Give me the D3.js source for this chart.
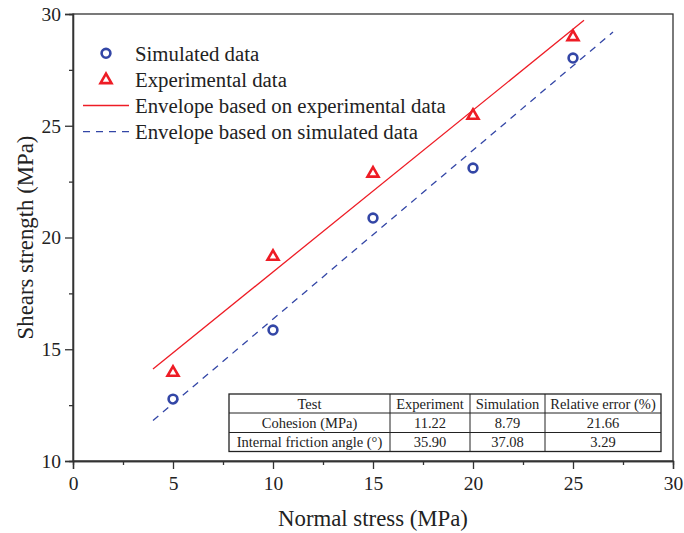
<!DOCTYPE html>
<html>
<head>
<meta charset="utf-8">
<script src="https://cdn.jsdelivr.net/npm/d3@7"></script>
<style>
  html, body { margin: 0; padding: 0; background: #fff; }
</style>
</head>
<body>
<svg id="chart" width="684" height="533"></svg>
<script>
// Normal stress levels (MPa)
const normalStress = [5, 10, 15, 20, 25];
// Measured shear strength (MPa)
const simulatedStrength = [12.77, 15.86, 20.87, 23.11, 28.03];
const experimentalStrength = [13.98, 19.17, 22.89, 25.48, 29.0];

// Mohr-Coulomb envelope parameters
const cohesion = { experiment: 11.22, simulation: 8.79 };
const frictionAngle = { experiment: 35.90, simulation: 37.08 };
const envelopeRange = { experiment: [4, 25.55], simulation: [4, 27] };

// Axis ticks
const xTicks = [0, 5, 10, 15, 20, 25, 30];
const yTicks = [10, 15, 20, 25, 30];
const xMinorTicks = [2.5, 7.5, 12.5, 17.5, 22.5, 27.5];
const yMinorTicks = [12.5, 17.5, 22.5, 27.5];

// Parameter table
const tableHeader = ["Test", "Experiment", "Simulation", "Relative error (%)"];
const tableRows = [
  ["Cohesion (MPa)", "11.22", "8.79", "21.66"],
  ["Internal friction angle (°)", "35.90", "37.08", "3.29"]
];

const FONT = '"Liberation Serif"';
const RED = "#ee1c25";
const BLUE = "#3346a6";
const AXIS = "#333";
const INK = "#222";

const svg = d3.select("#chart");
const m = { left: 73, top: 14, right: 673, bottom: 461 };

const x = d3.scaleLinear().domain([0, 30]).range([m.left, m.right]);
const y = d3.scaleLinear().domain([10, 30]).range([m.bottom, m.top]);

function txt(g) {
  return g.append("text").style("font-family", FONT).attr("fill", INK);
}

// Frame
svg.append("rect")
  .attr("x", m.left).attr("y", m.top)
  .attr("width", m.right - m.left).attr("height", m.bottom - m.top)
  .attr("fill", "none").attr("stroke", AXIS).attr("stroke-width", 1.3);

// Axes with outward ticks
function styleAxis(g) {
  g.attr("font-family", null);
  g.select(".domain").attr("stroke", AXIS).attr("stroke-width", 1.3);
  g.selectAll(".tick line").attr("stroke", AXIS).attr("stroke-width", 1.3);
  g.selectAll(".tick text")
    .style("font-family", FONT)
    .style("font-size", "19.5px").attr("fill", INK);
}
const gx = svg.append("g").attr("transform", `translate(0,${m.bottom})`)
  .call(d3.axisBottom(x).tickValues(xTicks).tickSize(8).tickPadding(7).tickFormat(d3.format("d")));
styleAxis(gx);
const gxm = svg.append("g").attr("transform", `translate(0,${m.bottom})`)
  .call(d3.axisBottom(x).tickValues(xMinorTicks).tickSize(4).tickFormat(""));
styleAxis(gxm);

const gy = svg.append("g").attr("transform", `translate(${m.left},0)`)
  .call(d3.axisLeft(y).tickValues(yTicks).tickSize(8).tickPadding(4).tickFormat(d3.format("d")));
styleAxis(gy);
const gym = svg.append("g").attr("transform", `translate(${m.left},0)`)
  .call(d3.axisLeft(y).tickValues(yMinorTicks).tickSize(4).tickFormat(""));
styleAxis(gym);

// Axis titles
txt(svg)
  .attr("x", (m.left + m.right) / 2).attr("y", 526)
  .attr("text-anchor", "middle").style("font-size", "22.8px")
  .text("Normal stress (MPa)");
txt(svg)
  .attr("transform", `translate(33,${(m.top + m.bottom) / 2}) rotate(-90)`)
  .attr("text-anchor", "middle").style("font-size", "22.8px")
  .text("Shears strength (MPa)");

// Envelopes: tau = c + sigma * tan(phi)
const envelope = (c, phi) => s => c + s * Math.tan(phi * Math.PI / 180);
const line = d3.line().x(d => x(d[0])).y(d => y(d[1]));

const expEnv = envelope(cohesion.experiment, frictionAngle.experiment);
const simEnv = envelope(cohesion.simulation, frictionAngle.simulation);

svg.append("path")
  .datum(envelopeRange.experiment.map(s => [s, expEnv(s)]))
  .attr("d", line).attr("fill", "none").attr("stroke", RED).attr("stroke-width", 1.3);
svg.append("path")
  .datum(envelopeRange.simulation.map(s => [s, simEnv(s)]))
  .attr("d", line).attr("fill", "none").attr("stroke", BLUE)
  .attr("stroke-width", 1.3).attr("stroke-dasharray", "7,6");

// Markers
const tri = d3.symbol().type(d3.symbolTriangle).size(52);
function drawCircle(g, cx, cy) {
  g.append("circle").attr("cx", cx).attr("cy", cy).attr("r", 4.4)
    .attr("fill", "none").attr("stroke", BLUE).attr("stroke-width", 2.6);
}
function drawTriangle(g, cx, cy) {
  g.append("path").attr("d", tri).attr("transform", `translate(${cx},${cy + 0.6})`)
    .attr("fill", "none").attr("stroke", RED).attr("stroke-width", 2.6)
    .attr("stroke-linejoin", "miter");
}
const pts = svg.append("g");
normalStress.forEach((s, i) => {
  drawCircle(pts, x(s), y(simulatedStrength[i]));
  drawTriangle(pts, x(s), y(experimentalStrength[i]));
});

// Legend
const legend = svg.append("g");
const legendItems = [
  { label: "Simulated data", kind: "circle" },
  { label: "Experimental data", kind: "triangle" },
  { label: "Envelope based on experimental data", kind: "solid" },
  { label: "Envelope based on simulated data", kind: "dashed" }
];
legendItems.forEach((it, i) => {
  const cy = 53.3 + i * 26.1;
  if (it.kind === "circle") drawCircle(legend, 106, cy);
  else if (it.kind === "triangle") drawTriangle(legend, 106, cy);
  else {
    legend.append("line").attr("x1", 83).attr("x2", 129).attr("y1", cy).attr("y2", cy)
      .attr("stroke", it.kind === "solid" ? RED : BLUE).attr("stroke-width", 1.3)
      .attr("stroke-dasharray", it.kind === "dashed" ? "7,6" : null);
  }
  txt(legend).attr("x", 135).attr("y", cy + 7.5)
    .style("font-size", "20.8px").text(it.label);
});

// Parameter table
const colEdges = [229, 390, 470, 545, 661];
const rowEdges = [394, 413, 432.5, 451.5];
const table = svg.append("g");
table.append("rect")
  .attr("x", colEdges[0]).attr("y", rowEdges[0])
  .attr("width", colEdges[4] - colEdges[0]).attr("height", rowEdges[3] - rowEdges[0])
  .attr("fill", "#fff").attr("stroke", INK).attr("stroke-width", 1.3);
colEdges.slice(1, -1).forEach(cx => {
  table.append("line").attr("x1", cx).attr("x2", cx)
    .attr("y1", rowEdges[0]).attr("y2", rowEdges[3]).attr("stroke", INK).attr("stroke-width", 1);
});
rowEdges.slice(1, -1).forEach(ry => {
  table.append("line").attr("x1", colEdges[0]).attr("x2", colEdges[4])
    .attr("y1", ry).attr("y2", ry).attr("stroke", INK).attr("stroke-width", 1);
});
[tableHeader, ...tableRows].forEach((row, r) => {
  row.forEach((cell, c) => {
    txt(table)
      .attr("x", (colEdges[c] + colEdges[c + 1]) / 2)
      .attr("y", (rowEdges[r] + rowEdges[r + 1]) / 2 + 5)
      .attr("text-anchor", "middle").style("font-size", "14.5px")
      .text(cell);
  });
});
</script>
</body>
</html>
